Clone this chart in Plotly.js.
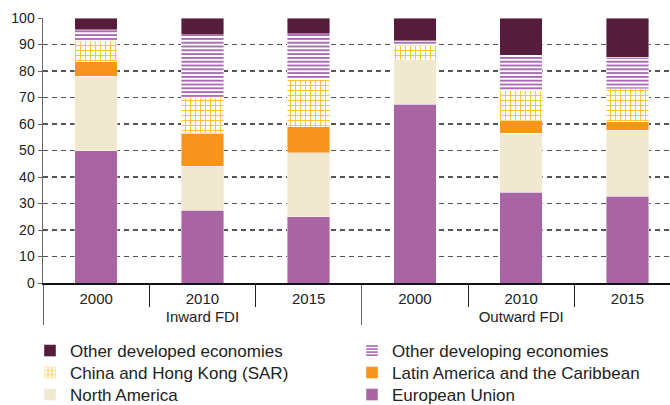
<!DOCTYPE html>
<html>
<head>
<meta charset="utf-8">
<script src="https://cdn.plot.ly/plotly-3.0.1.min.js"></script>
<style>html,body{margin:0;padding:0;background:#fff;}#chart{width:670px;height:405px;}</style>
</head>
<body>
<div id="chart"></div>
<script>
const groups = ["Inward FDI","Inward FDI","Inward FDI","Outward FDI","Outward FDI","Outward FDI"];
const years = ["2000","2010","2015","2000","2010","2015"];
const europeanUnion   = [50, 27.5, 25, 67.5, 34.3, 32.7];
const northAmerica    = [28, 16.5, 24.2, 16.7, 22.2, 25];
const latinAmerica    = [5.4, 12.5, 9.8, 0, 4.8, 3.1];
const chinaHongKong   = [7.6, 13.5, 17.9, 5.6, 11.3, 12.5];
const otherDeveloping = [4.5, 23.6, 17.1, 1.6, 13.4, 11.9];
const otherDeveloped  = [4.5, 6.4, 6, 8.6, 14, 14.8];
const yTicks = [0,10,20,30,40,50,60,70,80,90,100];

const x = [groups, years];
const edge = {width: 0.6, color: 'rgba(255,255,255,0.7)'};
function bar(name, y, color, legend, pattern) {
  const m = {color: color, line: edge};
  if (pattern) m.pattern = pattern;
  return {type: 'bar', name: name, x: x, y: y, marker: m, width: 0.4,
          legend: legend, hoverinfo: 'y+name'};
}
const data = [
  bar('European Union', europeanUnion, '#A965A3', 'legend6'),
  bar('North America', northAmerica, '#F0E9CF', 'legend5'),
  bar('Latin America and the Caribbean', latinAmerica, '#F7941E', 'legend4'),
  bar('China and Hong Kong (SAR)', chinaHongKong, '#FFFFFF', 'legend3',
      {shape: '+', fgcolor: '#FFC629', bgcolor: '#FFFFFF', size: 5, solidity: 0.35}),
  bar('Other developing economies', otherDeveloping, '#FFFFFF', 'legend2',
      {shape: '-', fgcolor: '#8E3D9C', bgcolor: '#FFFFFF', size: 3.8, solidity: 0.38}),
  bar('Other developed economies', otherDeveloped, '#561C3C', 'legend')
];
function leg(px, py) {
  return {
    orientation: 'v', traceorder: 'normal',
    xref: 'container', yref: 'container', xanchor: 'left', yanchor: 'top',
    x: px/670, y: 1 - py/405,
    font: {size: 17, color: '#222'},
    tracegroupgap: 0, bgcolor: 'rgba(0,0,0,0)'
  };
}
const col1 = 30, col2 = 352;
const rows = [333, 355, 377];
const layout = {
  width: 670, height: 405,
  margin: {l: 43, r: 0, t: 18, b: 122, autoexpand: false},
  paper_bgcolor: '#fff', plot_bgcolor: '#fff',
  barmode: 'stack',
  font: {family: 'Liberation Sans, Arial, sans-serif', size: 14, color: '#222'},
  xaxis: {
    type: 'multicategory', range: [-0.5, 5.4],
    showline: true, linecolor: '#111', linewidth: 1.5,
    ticks: 'outside', tickson: 'boundaries', ticklen: 22, tickcolor: '#222', tickwidth: 1,
    showdividers: true, dividercolor: '#666', dividerwidth: 1,
    tickfont: {size: 15, color: '#222'}, ticklabelstandoff: 1,
    showgrid: false, zeroline: false
  },
  yaxis: {
    range: [0, 100], tickvals: yTicks, ticktext: yTicks.map(String),
    showline: true, linecolor: '#666', linewidth: 1.5,
    ticks: 'outside', ticklen: 4, tickcolor: '#666',
    showgrid: true, gridcolor: '#555', gridwidth: 1.2, griddash: '5px,4px',
    zeroline: false, tickfont: {size: 14, color: '#222'}
  },
  showlegend: true,
  legend:  leg(col1, rows[0]),
  legend2: leg(col2, rows[0]),
  legend3: leg(col1, rows[1]),
  legend4: leg(col2, rows[1]),
  legend5: leg(col1, rows[2]),
  legend6: leg(col2, rows[2])
};
Plotly.newPlot('chart', data, layout, {displayModeBar: false, staticPlot: true});
</script>
</body>
</html>
